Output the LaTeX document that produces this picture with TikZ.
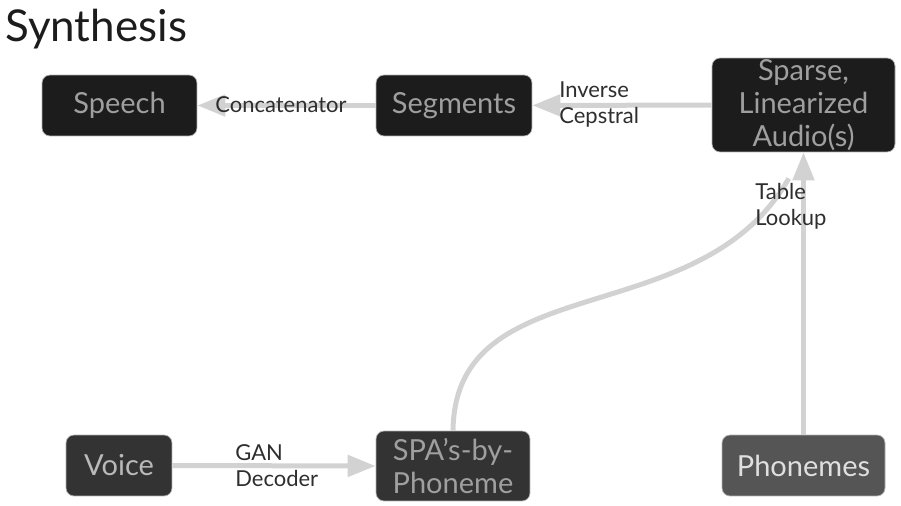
\documentclass[tikz,border=0pt]{standalone}
\usepackage{fontspec}
\setmainfont{Lato}
\usetikzlibrary{arrows.meta}
\usetikzlibrary{shapes}

\definecolor{boxblack}{HTML}{1C1C1C}
\definecolor{boxdark}{HTML}{333333}
\definecolor{boxmid}{HTML}{555555}
\definecolor{flowgray}{HTML}{D2D2D2}
\definecolor{labelgray}{HTML}{2E2E2E}

\tikzset{
    block/.style={draw=gray!60, line width=0.4pt, rounded corners=0.16cm, fill=boxblack,
        text=gray!75, align=center, inner sep=0pt, font=\fontsize{16.5}{18.7}\selectfont},
    flow/.style={draw=flowgray, line width=0.1cm, -{Triangle[length=0.56cm,width=0.42cm]}},
    lbl/.style={text=labelgray, align=left, inner sep=0pt, font=\fontsize{12.5}{14.8}\selectfont}
}

\begin{document}
\begin{tikzpicture}[x=0.02cm, y=-0.02cm]
    \useasboundingbox (0,0) rectangle (901,506);
    \node[anchor=base west, inner sep=0pt, text=boxblack, font=\fontsize{25}{30}\selectfont] (title) at (5,42) {Synthesis};

    \node[block, minimum width=3.1cm, minimum height=1.22cm] (speech) at (119.5,105.5) {Speech};
    \node[block, minimum width=3.12cm, minimum height=1.22cm] (segments) at (454,105.5) {Segments};
    \node[block, minimum width=3.66cm, minimum height=1.88cm] (sparse) at (803.5,105) {Sparse,\\Linearized\\Audio(s)};
    \node[block, fill=boxdark, text=gray!55, minimum width=2.12cm, minimum height=1.22cm] (voice) at (119,465.5) {Voice};
    \node[block, fill=boxdark, minimum width=3.08cm, minimum height=1.4cm] (spa) at (453,466) {SPA's-by-\\Phoneme};
    \node[block, fill=boxmid, text=gray!25, minimum width=3.26cm, minimum height=1.22cm] (phonemes) at (803.5,465.5) {Phonemes};

    \draw[flow] (segments) to (speech);
    \draw[flow] (sparse) to (segments);
    \draw[flow] (voice.east) to (spa.west);
    \draw[flow] (phonemes.north) to (sparse.south);
    \draw[flow, -, shorten >=0.6cm] (spa.north) .. controls (455,265) and (700,335) .. (sparse.south);

    \node[lbl] (concat) at (281,105) {Concatenator};
    \node[lbl, anchor=west] (cepstral) at (559,105) {Inverse\\Cepstral};
    \node[lbl, anchor=west] (gan) at (235,466) {GAN\\Decoder};
    \node[lbl, anchor=north west] (lookup) at (755,183) {Table\\Lookup};
\end{tikzpicture}
\end{document}
